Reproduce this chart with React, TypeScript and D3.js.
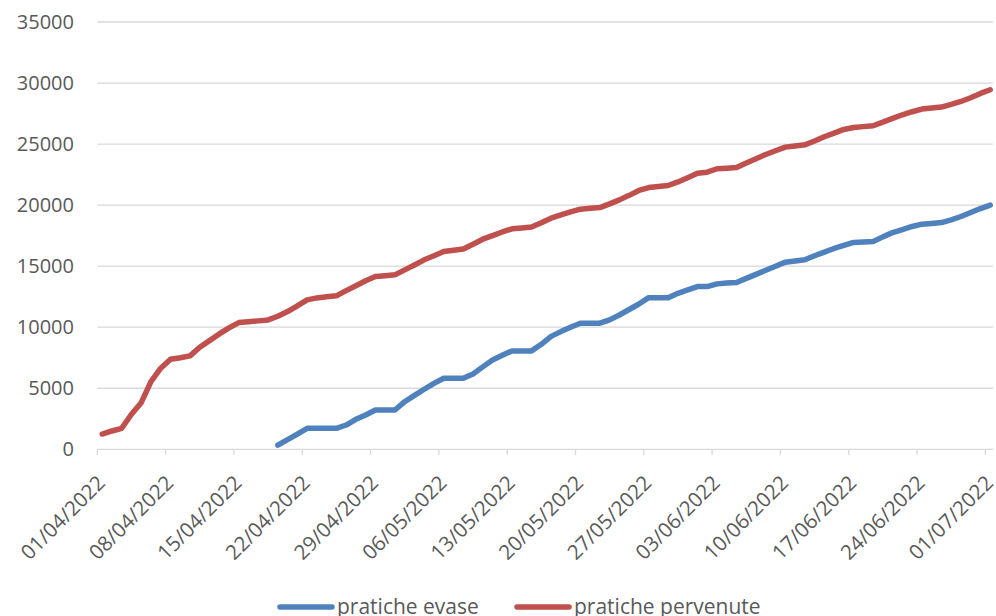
import React, { useEffect, useRef } from 'react';
import * as d3 from 'd3';

// daily values from 01/04/2022 to 01/07/2022
const startDate = '2022-04-01';

const pervenute = [
  1250, 1500, 1720, 2870, 3820, 5540, 6640, 7380, 7500, 7650,
  8360, 8900, 9450, 9950, 10380, 10450, 10520, 10600, 10900, 11280,
  11750, 12240, 12400, 12500, 12570, 13000, 13400, 13800, 14150, 14220,
  14290, 14700, 15100, 15520, 15850, 16200, 16300, 16400, 16800, 17210,
  17500, 17800, 18060, 18130, 18200, 18550, 18930, 19200, 19450, 19670,
  19740, 19800, 20100, 20430, 20800, 21200, 21440, 21530, 21610, 21900,
  22250, 22620, 22700, 22980, 23030, 23080, 23450, 23800, 24150, 24450,
  24750, 24850, 24940, 25250, 25600, 25900, 26200, 26360, 26430, 26500,
  26800, 27100, 27400, 27650, 27870, 27950, 28030, 28250, 28490, 28800,
  29150, 29450,
];

// evase starts on 19/04/2022 (day 18)
const evaseStart = 18;
const evase = [
  350, 800, 1250, 1720, 1720, 1720, 1720, 1990, 2460, 2810,
  3220, 3220, 3220, 3900, 4420, 4920, 5400, 5820, 5820, 5820,
  6170, 6750, 7320, 7700, 8060, 8060, 8060, 8600, 9250, 9640,
  10000, 10330, 10330, 10330, 10600, 11000, 11450, 11900, 12420, 12420,
  12420, 12780, 13050, 13330, 13330, 13550, 13620, 13660, 14000, 14330,
  14660, 15000, 15330, 15420, 15520, 15850, 16150, 16450, 16700, 16940,
  16980, 17020, 17400, 17750, 18000, 18250, 18440, 18500, 18570, 18800,
  19070, 19400, 19720, 20000,
];

const yTicks = [0, 5000, 10000, 15000, 20000, 25000, 30000, 35000];

const seriesNames = ['pratiche evase', 'pratiche pervenute'];
const seriesColors = ['#4F81BD', '#C0504D'];

const font = '"Open Sans", "Noto Sans", sans-serif';

const App = () => {
  const svgRef = useRef<SVGSVGElement>(null);

  useEffect(() => {
    const svg = d3.select(svgRef.current);
    svg.selectAll('*').remove();

    const day0 = d3.utcParse('%Y-%m-%d')(startDate) as Date;
    const dayAt = (i: number) => d3.utcDay.offset(day0, i);
    const lastDay = dayAt(pervenute.length - 1);

    const x = d3.scaleUtc()
      .domain([day0, d3.utcDay.offset(lastDay, 1)])
      .range([97.3, 995.1]);
    const y = d3.scaleLinear().domain([0, 35000]).range([449.3, 22]);

    // point sits in the middle of its day
    const xMid = (i: number) => x(d3.utcHour.offset(dayAt(i), 12));

    // gridlines
    svg.append('g')
      .selectAll('line')
      .data(yTicks.slice(1))
      .enter()
      .append('line')
      .attr('x1', 97.3)
      .attr('x2', 993)
      .attr('y1', d => y(d))
      .attr('y2', d => y(d))
      .attr('stroke', '#d9d9d9')
      .attr('stroke-width', 1.3);

    // y labels
    svg.append('g')
      .selectAll('text')
      .data(yTicks)
      .enter()
      .append('text')
      .attr('x', 74)
      .attr('y', d => y(d))
      .attr('dy', '0.35em')
      .attr('text-anchor', 'end')
      .attr('font-family', font)
      .attr('font-size', 20)
      .attr('fill', '#595959')
      .text(d => d);

    // x axis
    const xTicks = d3.utcDay.range(day0, d3.utcDay.offset(lastDay, 1), 7);
    svg.append('line')
      .attr('x1', 97.3)
      .attr('x2', 993)
      .attr('y1', 449.3)
      .attr('y2', 449.3)
      .attr('stroke', '#d9d9d9')
      .attr('stroke-width', 1.3);

    svg.append('g')
      .selectAll('line')
      .data(xTicks)
      .enter()
      .append('line')
      .attr('x1', d => x(d))
      .attr('x2', d => x(d))
      .attr('y1', 449.3)
      .attr('y2', 455)
      .attr('stroke', '#d9d9d9')
      .attr('stroke-width', 1.3);

    const fmt = d3.utcFormat('%d/%m/%Y');
    svg.append('g')
      .selectAll('text')
      .data(xTicks)
      .enter()
      .append('text')
      .attr('transform', d => `translate(${x(d) + 4},${479}) rotate(-45)`)
      .attr('text-anchor', 'end')
      .attr('dy', '0.35em')
      .attr('font-family', font)
      .attr('font-size', 20.5)
      .attr('fill', '#595959')
      .text(d => fmt(d));

    // lines
    const line = d3.line<[number, number]>()
      .x(d => d[0])
      .y(d => d[1]);

    const evasePts: [number, number][] = evase.map((v, i) => [xMid(i + evaseStart), y(v)]);
    const pervPts: [number, number][] = pervenute.map((v, i) => [xMid(i), y(v)]);

    [evasePts, pervPts].forEach((pts, k) => {
      svg.append('path')
        .attr('d', line(pts))
        .attr('fill', 'none')
        .attr('stroke', seriesColors[k])
        .attr('stroke-width', 5.5)
        .attr('stroke-linejoin', 'round')
        .attr('stroke-linecap', 'round');
    });

    // legend
    const legendX = [280, 517];
    const legend = svg.append('g')
      .selectAll('g')
      .data(seriesNames)
      .enter()
      .append('g')
      .attr('transform', (d, i) => `translate(${legendX[i]},607)`);
    legend.append('line')
      .attr('x1', 0)
      .attr('x2', 52)
      .attr('stroke', (d, i) => seriesColors[i])
      .attr('stroke-width', 5.5)
      .attr('stroke-linecap', 'round');
    legend.append('text')
      .attr('x', 57)
      .attr('dy', '0.35em')
      .attr('font-family', font)
      .attr('font-size', 21)
      .attr('fill', '#595959')
      .text(d => d);
  }, []);

  return (
    <svg
      ref={svgRef}
      width={996}
      height={616}
      style={{ position: 'absolute', left: 0, top: 0, background: '#fff' }}
    ></svg>
  );
};

export default App;
